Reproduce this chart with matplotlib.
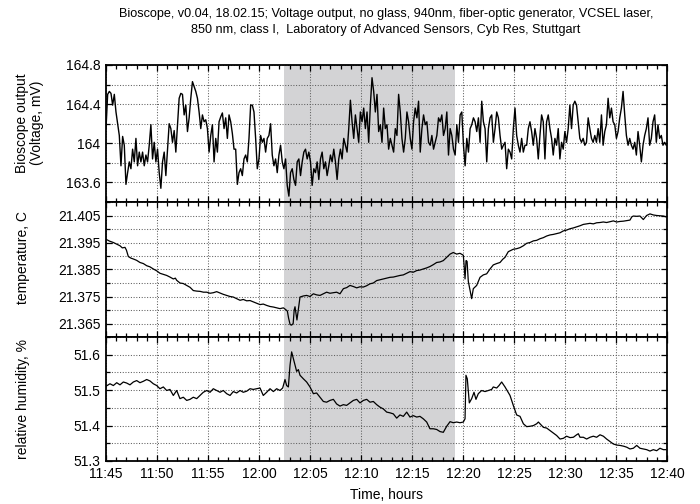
import numpy as np
import matplotlib
matplotlib.use("Agg")
import matplotlib.pyplot as plt
from matplotlib.ticker import FixedLocator, MultipleLocator

plt.rcParams['font.family'] = ['Liberation Sans', 'DejaVu Sans']

TITLE = ("Bioscope, v0.04, 18.02.15; Voltage output, no glass, 940nm, fiber-optic generator, VCSEL laser,\n"
         "850 nm, class I,  Laboratory of Advanced Sensors, Cyb Res, Stuttgart")

# time axis is minutes after 11:45
TIME_TICKS = [0, 5, 10, 15, 20, 25, 30, 35, 40, 45, 50, 55]
TIME_LABELS = ["11:45", "11:50", "11:55", "12:00", "12:05", "12:10",
               "12:15", "12:20", "12:25", "12:30", "12:35", "12:40"]

# no-glass interval (shaded)
SHADE_START = 17.45
SHADE_END = 34.2

# bioscope output, mV, one sample every ~9.8 s
VOLT_STEP_S = 9.78
volt_mv = [
    164.15, 164.50, 164.53, 164.51, 164.39, 164.50, 164.32, 164.20, 164.08, 163.77,
    164.07, 163.98, 163.58, 163.70, 163.81, 163.74, 163.94, 163.81, 164.05, 163.77,
    163.91, 163.81, 163.91, 163.77, 163.88, 163.81, 163.98, 164.19, 163.84, 164.01,
    163.81, 163.94, 163.70, 163.54, 163.81, 163.91, 163.67, 163.94, 164.20, 164.15,
    164.01, 164.13, 163.91, 164.19, 164.46, 164.51, 164.50, 164.29, 164.39, 164.12,
    164.26, 164.46, 164.63, 164.58, 164.53, 164.46, 164.32, 164.15, 164.29, 164.22,
    164.24, 164.15, 163.91, 164.08, 164.19, 163.81, 164.05, 163.91, 164.22, 164.27,
    164.31, 164.15, 164.26, 164.05, 164.29, 164.22, 164.10, 163.94, 163.94, 163.58,
    163.70, 163.74, 163.67, 163.84, 163.88, 163.81,
    164.05, 164.39, 164.39, 164.32, 164.05, 163.74, 163.84, 164.08, 164.01, 164.05,
    163.91, 164.05, 164.08, 164.20, 163.88, 163.77, 163.84, 163.70, 163.88, 163.98,
    163.81, 163.74, 163.84, 163.57, 163.46, 163.70, 163.74, 163.63, 163.57, 163.81,
    163.84, 163.67, 163.81, 163.91, 163.94, 163.84, 163.91, 163.81, 163.57, 163.74,
    163.70, 163.81, 163.63, 163.84, 163.91, 163.74, 163.81, 163.67, 163.77, 163.88,
    163.81, 163.94, 163.81, 163.63, 163.84, 163.94, 163.84, 164.05, 163.98, 163.91,
    164.15, 164.44, 164.22, 164.05, 164.29, 164.15, 164.01, 164.32, 164.22, 164.36,
    164.15, 164.32, 164.01, 164.39, 164.67, 164.53, 164.32, 164.50, 164.12, 164.19,
    164.01, 164.36, 164.15, 164.19, 163.94,
    164.05, 163.98, 163.91, 164.15, 164.08, 164.50, 164.32, 164.05, 163.91, 164.05,
    164.32, 164.22, 164.05, 163.94, 164.22, 164.36, 164.26, 164.43, 163.91, 164.15,
    164.29, 164.19, 164.22, 164.01, 163.98, 164.08, 163.94, 164.01, 164.08, 164.26,
    164.22, 164.29, 164.08, 164.15, 164.32, 163.88, 164.15, 164.08, 163.94, 163.88,
    164.19, 164.01, 164.29, 164.32, 163.98, 163.77, 164.05, 163.91, 164.15, 164.19,
    164.26, 164.22, 164.12, 164.26, 164.01, 164.43, 164.22, 164.15, 163.81, 164.15,
    164.26, 164.29, 164.01, 164.15, 164.32, 164.26, 164.08, 163.94, 163.98, 164.01,
    163.74, 163.94, 163.91, 163.84, 164.15, 164.36, 164.08, 163.98, 163.91, 164.05,
    163.91, 163.98, 163.98, 164.15, 164.22,
    164.12, 163.98, 164.15, 164.05, 163.84, 164.08, 164.29, 164.22, 163.84, 164.22,
    164.29, 164.15, 164.05, 163.88, 164.05, 163.98, 164.15, 163.84, 164.01, 163.94,
    164.12, 164.01, 164.15, 164.39, 164.15, 164.39, 164.43, 164.39, 164.22, 164.05,
    164.01, 164.05, 163.98, 164.01, 164.26, 164.15, 164.05, 164.01, 164.08, 164.01,
    164.15, 164.01, 164.29, 163.98, 164.12, 164.19, 164.46, 164.26, 164.36, 164.22,
    164.19, 164.05, 164.12, 164.26, 164.36, 164.53, 164.29, 164.08, 163.98, 164.05,
    163.98, 163.94, 164.01, 163.88, 164.12, 163.98, 163.81, 163.98, 164.08, 164.15,
    164.26, 163.98, 164.05, 164.22, 164.29, 164.01, 164.19, 164.05, 164.08, 163.98,
    164.01, 163.98,
]

# temperature, C
temp_t = [
    0.00, 0.35, 0.72, 1.05, 1.37, 1.60, 1.86, 2.00, 2.19, 2.45,
    2.68, 3.00, 3.33, 3.66, 3.99, 4.30, 4.64, 4.97, 5.29, 5.62,
    5.95, 6.27, 6.60, 6.80, 6.93, 7.25, 7.58, 7.91, 8.24, 8.56,
    8.89, 9.22, 9.55, 9.87, 10.20, 10.52, 10.85, 11.18, 11.50, 11.83,
    12.16, 12.48, 12.81, 13.14, 13.46, 13.79, 14.12, 14.44, 14.77, 15.10,
    15.42, 15.75, 16.08, 16.41, 16.73, 17.06, 17.39, 17.60, 17.78, 17.90,
    18.05, 18.20, 18.35, 18.45, 18.53, 18.62, 18.72, 18.85, 19.02, 19.35,
    19.67, 20.00, 20.33, 20.65, 20.98, 21.31, 21.63, 21.96, 22.29, 22.61,
    22.94, 23.27, 23.60, 23.92, 24.25, 24.58, 24.90, 25.23, 25.56, 25.88,
    26.21, 26.54, 26.86, 27.19, 27.52, 27.84, 28.17, 28.50, 28.82, 29.15,
    29.48, 29.80, 30.13, 30.46, 30.78, 31.11, 31.44, 31.76, 32.09, 32.42,
    32.75, 33.07, 33.40, 33.73, 34.05, 34.38, 34.70, 35.03, 35.12, 35.20,
    35.30, 35.40, 35.52, 35.70, 35.85, 36.01, 36.34, 36.67, 36.99, 37.32,
    37.65, 37.97, 38.30, 38.63, 38.90, 39.12, 39.44, 39.93, 40.26, 40.59,
    40.92, 41.24, 41.57, 41.90, 42.22, 42.55, 42.88, 43.20, 43.53, 43.86,
    44.18, 44.51, 44.84, 45.16, 45.49, 45.82, 46.15, 46.47, 46.80, 47.12,
    47.45, 47.78, 48.10, 48.43, 48.76, 49.08, 49.41, 49.74, 50.07, 50.39,
    50.72, 51.05, 51.37, 51.55, 51.70, 52.03, 52.35, 52.68, 53.00, 53.33,
    53.66, 53.99, 54.31, 54.64, 54.90,
]
temp_c = [
    21.3962, 21.3955, 21.3950, 21.3944, 21.3938, 21.3930, 21.3932, 21.3922, 21.3898, 21.3892,
    21.3889, 21.3884, 21.3876, 21.3872, 21.3864, 21.3860, 21.3852, 21.3845, 21.3836, 21.3832,
    21.3828, 21.3822, 21.3815, 21.3818, 21.3810, 21.3800, 21.3798, 21.3791, 21.3784, 21.3772,
    21.3770, 21.3769, 21.3766, 21.3766, 21.3762, 21.3764, 21.3768, 21.3763, 21.3758, 21.3754,
    21.3750, 21.3748, 21.3742, 21.3736, 21.3739, 21.3734, 21.3735, 21.3730, 21.3725, 21.3720,
    21.3722, 21.3717, 21.3713, 21.3711, 21.3708, 21.3705, 21.3708, 21.3702, 21.3696, 21.3670,
    21.3646, 21.3644, 21.3650, 21.3700, 21.3712, 21.3690, 21.3663, 21.3700, 21.3748, 21.3752,
    21.3754, 21.3750, 21.3760, 21.3756, 21.3754, 21.3760, 21.3766, 21.3762, 21.3764, 21.3766,
    21.3760, 21.3779, 21.3783, 21.3791, 21.3787, 21.3782, 21.3786, 21.3785, 21.3790, 21.3797,
    21.3800, 21.3809, 21.3812, 21.3815, 21.3818, 21.3821, 21.3822, 21.3825, 21.3828, 21.3830,
    21.3836, 21.3842, 21.3840, 21.3846, 21.3848, 21.3852, 21.3856, 21.3861, 21.3868, 21.3876,
    21.3878, 21.3883, 21.3895, 21.3907, 21.3913, 21.3907, 21.3910, 21.3903, 21.3860, 21.3815,
    21.3883, 21.3880, 21.3806, 21.3770, 21.3742, 21.3779, 21.3791, 21.3821, 21.3830, 21.3834,
    21.3852, 21.3867, 21.3872, 21.3876, 21.3888, 21.3895, 21.3916, 21.3925, 21.3927, 21.3931,
    21.3938, 21.3947, 21.3950, 21.3956, 21.3958, 21.3964, 21.3968, 21.3974, 21.3978, 21.3980,
    21.3983, 21.3986, 21.3993, 21.3996, 21.4001, 21.4004, 21.4008, 21.4012, 21.4017, 21.4019,
    21.4021, 21.4019, 21.4023, 21.4024, 21.4026, 21.4024, 21.4027, 21.4030, 21.4026, 21.4028,
    21.4029, 21.4031, 21.4033, 21.4045, 21.4048, 21.4047, 21.4048, 21.4035, 21.4050, 21.4056,
    21.4052, 21.4050, 21.4049, 21.4048, 21.4045,
]

# relative humidity, %
hum_t = [
    0.00, 0.39, 0.72, 1.05, 1.37, 1.70, 2.03, 2.35, 2.68, 3.01,
    3.33, 3.66, 3.99, 4.31, 4.64, 4.97, 5.29, 5.62, 5.95, 6.27,
    6.60, 6.93, 7.25, 7.58, 7.91, 8.24, 8.56, 8.89, 9.22, 9.54,
    9.87, 10.20, 10.52, 10.85, 11.18, 11.50, 11.83, 12.16, 12.48, 12.81,
    13.14, 13.46, 13.79, 14.12, 14.44, 14.77, 15.10, 15.42, 15.75, 16.08,
    16.41, 16.73, 17.06, 17.32, 17.55, 17.71, 17.88, 18.04, 18.20, 18.37,
    18.53, 18.69, 18.86, 19.02, 19.35, 19.67, 20.00, 20.33, 20.65, 20.98,
    21.31, 21.63, 21.96, 22.29, 22.61, 22.94, 23.27, 23.59, 23.92, 24.25,
    24.58, 24.90, 25.23, 25.56, 25.88, 26.21, 26.54, 26.86, 27.19, 27.52,
    27.84, 28.17, 28.50, 28.82, 29.15, 29.48, 29.80, 30.13, 30.46, 30.78,
    31.11, 31.44, 31.76, 32.09, 32.42, 32.75, 33.07, 33.40, 33.73, 34.05,
    34.38, 34.71, 35.03, 35.20, 35.29, 35.42, 35.62, 35.85, 36.08, 36.27,
    36.50, 36.83, 37.16, 37.48, 37.81, 37.97, 38.30, 38.53, 38.79, 39.12,
    39.61, 39.93, 40.26, 40.59, 40.92, 41.24, 41.57, 41.90, 42.22, 42.39,
    42.55, 42.88, 43.20, 43.53, 43.86, 44.18, 44.51, 44.84, 45.16, 45.49,
    45.82, 46.14, 46.31, 46.47, 46.80, 47.12, 47.45, 47.78, 48.10, 48.43,
    48.76, 49.08, 49.41, 49.74, 50.07, 50.39, 50.72, 51.05, 51.37, 51.70,
    52.03, 52.35, 52.68, 53.01, 53.33, 53.66, 53.99, 54.31, 54.64, 54.90,
]
hum_pct = [
    51.511, 51.518, 51.513, 51.521, 51.515, 51.523, 51.520, 51.515, 51.523, 51.527,
    51.521, 51.525, 51.530, 51.526, 51.518, 51.513, 51.504, 51.509, 51.499, 51.502,
    51.485, 51.499, 51.476, 51.480, 51.471, 51.474, 51.480, 51.476, 51.485, 51.494,
    51.499, 51.494, 51.504, 51.499, 51.494, 51.499, 51.490, 51.485, 51.496, 51.492,
    51.499, 51.494, 51.497, 51.504, 51.502, 51.504, 51.506, 51.485, 51.494, 51.504,
    51.496, 51.504, 51.499, 51.506, 51.530, 51.513, 51.509, 51.570, 51.608, 51.589,
    51.570, 51.553, 51.558, 51.542, 51.532, 51.523, 51.509, 51.490, 51.492, 51.480,
    51.468, 51.466, 51.471, 51.474, 51.461, 51.455, 51.459, 51.457, 51.464, 51.471,
    51.474, 51.464, 51.471, 51.474, 51.466, 51.468, 51.459, 51.452, 51.447, 51.438,
    51.436, 51.433, 51.421, 51.430, 51.426, 51.438, 51.424, 51.428, 51.424, 51.426,
    51.419, 51.410, 51.391, 51.391, 51.389, 51.383, 51.381, 51.398, 51.411, 51.408,
    51.410, 51.408, 51.410, 51.419, 51.542, 51.532, 51.464, 51.476, 51.494, 51.474,
    51.490, 51.499, 51.496, 51.499, 51.502, 51.509, 51.506, 51.513, 51.523, 51.509,
    51.485, 51.457, 51.430, 51.426, 51.405, 51.397, 51.398, 51.400, 51.405, 51.410,
    51.405, 51.395, 51.393, 51.386, 51.379, 51.372, 51.362, 51.364, 51.370, 51.366,
    51.367, 51.374, 51.377, 51.367, 51.367, 51.362, 51.367, 51.370, 51.367, 51.374,
    51.370, 51.362, 51.355, 51.348, 51.345, 51.344, 51.342, 51.339, 51.334, 51.336,
    51.344, 51.336, 51.334, 51.332, 51.328, 51.332, 51.329, 51.336, 51.332, 51.332,
]

# y ranges and the tick values that carry labels
VOLT_YLIM = (163.4, 164.8)
VOLT_LABELS = [163.6, 164.0, 164.4, 164.8]
TEMP_YLIM = (21.36, 21.41)
TEMP_LABELS = [21.365, 21.375, 21.385, 21.395, 21.405]
HUM_YLIM = (51.3, 51.65)
HUM_LABELS = [51.3, 51.4, 51.5, 51.6]

SHADE_COLOR = "#d3d3d5"
GRID_COLOR = "#606060"


def style_panel(ax, ylim, step, labels, fmt):
    ax.set_xlim(0, 55)
    ax.set_ylim(*ylim)
    ax.axvspan(SHADE_START, SHADE_END, color=SHADE_COLOR, lw=0, zorder=0.1)

    ax.xaxis.set_major_locator(FixedLocator(TIME_TICKS))
    ax.xaxis.set_minor_locator(MultipleLocator(1))
    ax.yaxis.set_major_locator(FixedLocator(labels))
    ax.yaxis.set_minor_locator(MultipleLocator(step))
    ax.set_yticklabels([fmt % v for v in labels])

    ax.set_axisbelow(True)
    ax.xaxis.grid(True, which="major", color=GRID_COLOR, ls=(0, (1, 1.6)), lw=0.75)
    ax.yaxis.grid(True, which="both", color=GRID_COLOR, ls=(0, (1, 1.6)), lw=0.75)

    ax.tick_params(which="both", direction="in", top=True, right=True,
                   labelsize=10, width=0.9, pad=4)
    ax.tick_params(which="major", length=4)
    ax.tick_params(which="minor", length=3)
    for sp in ax.spines.values():
        sp.set_linewidth(1.3)


fig = plt.figure(figsize=(7.0, 5.04), dpi=100)
left, width = 106 / 700, 561 / 700
H = 504
ax_v = fig.add_axes([left, 1 - 202 / H, width, 137 / H])
ax_t = fig.add_axes([left, 1 - 337 / H, width, 135 / H])
ax_h = fig.add_axes([left, 1 - 461 / H, width, 124 / H])

volt_t = np.arange(len(volt_mv)) * VOLT_STEP_S / 60.0
ax_v.plot(volt_t, volt_mv, color="black", lw=1.0, zorder=3)
ax_t.plot(temp_t, temp_c, color="black", lw=0.9, zorder=3)
ax_h.plot(hum_t, hum_pct, color="black", lw=0.9, zorder=3)

style_panel(ax_v, VOLT_YLIM, 0.2, VOLT_LABELS, "%g")
style_panel(ax_t, TEMP_YLIM, 0.005, TEMP_LABELS, "%.3f")
style_panel(ax_h, HUM_YLIM, 0.05, HUM_LABELS, "%g")

for ax in (ax_v, ax_t):
    ax.tick_params(labelbottom=False)
ax_h.set_xticklabels(TIME_LABELS)
ax_h.set_xlabel("Time, hours", fontsize=10, labelpad=5.5)

ax_v.set_ylabel("Bioscope output\n(Voltage, mV)", fontsize=10, linespacing=1.1)
ax_v.yaxis.set_label_coords(-0.11, 0.577)
ax_t.set_ylabel("temperature, C", fontsize=10)
ax_t.yaxis.set_label_coords(-0.1355, 0.589)
ax_h.set_ylabel("relative humidity, %", fontsize=10)
ax_h.yaxis.set_label_coords(-0.1355, 0.5)

fig.text(0.551, 1 - 8 / H, TITLE, ha="center", va="top", fontsize=9.1,
         linespacing=1.45)

fig.savefig("out.png", dpi=100)
